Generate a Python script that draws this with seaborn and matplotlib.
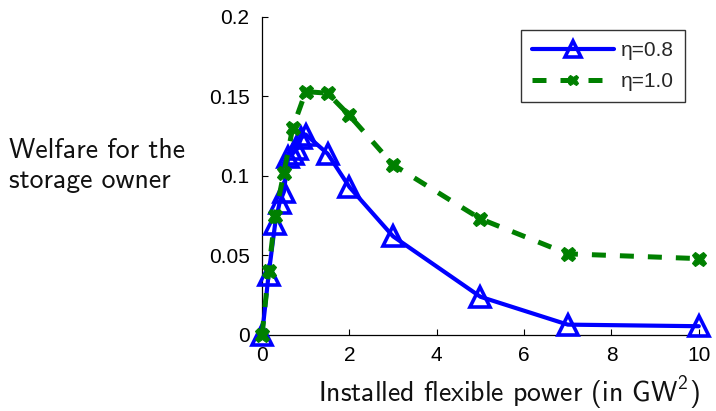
import matplotlib
matplotlib.use("Agg")
import matplotlib.pyplot as plt
import seaborn as sns
import pandas as pd

# Data
x_eta08 = [0, 0.15, 0.3, 0.4, 0.5, 0.6, 0.7, 0.8, 0.9, 1.0, 1.5, 2, 3, 5, 7, 10]
y_eta08 = [0, 0.038, 0.070, 0.083, 0.090, 0.112, 0.114, 0.117, 0.124, 0.126, 0.114, 0.093, 0.062, 0.024, 0.0065, 0.0055]
x_eta10 = [0, 0.15, 0.3, 0.5, 0.7, 1.0, 1.5, 2, 3, 5, 7, 10]
y_eta10 = [0, 0.040, 0.075, 0.102, 0.130, 0.153, 0.152, 0.138, 0.107, 0.073, 0.051, 0.048]
labels = ["\u03b7=0.8", "\u03b7=1.0"]
xticks = [0, 2, 4, 6, 8, 10]
yticks = [0, 0.05, 0.1, 0.15, 0.2]
yticklabels = ["0", "0.05", "0.1", "0.15", "0.2"]

sns.set_theme(style="ticks")
plt.rcParams["font.family"] = ["cmss10", "DejaVu Sans"]
plt.rcParams["mathtext.fontset"] = "custom"
plt.rcParams["mathtext.rm"] = "cmss10"
plt.rcParams["mathtext.it"] = "cmss10"
plt.rcParams["axes.unicode_minus"] = False
plt.rcParams["axes.formatter.use_mathtext"] = False

fig = plt.figure(figsize=(7.16, 4.11), dpi=100)
ax = fig.add_axes([0.366, 0.185, 0.610, 0.774])

df1 = pd.DataFrame({"x": x_eta08, "y": y_eta08})
df2 = pd.DataFrame({"x": x_eta10, "y": y_eta10})

blue = (0, 0, 1)
green = (0, 0.5, 0)

sns.lineplot(data=df1, x="x", y="y", ax=ax, color=blue, lw=3.0, marker="^",
             markersize=15, mfc="none", mec=blue, mew=2.6, label=labels[0],
             sort=False, clip_on=False, zorder=3)
sns.lineplot(data=df2, x="x", y="y", ax=ax, color=green, lw=3.6, ls=(0, (2.8, 2.8)),
             marker="X", markersize=10.5, mfc=green, mec=green, mew=0.8, label=labels[1],
             sort=False, clip_on=False, zorder=4)

ax.set_xlim(0, 10)
ax.set_ylim(0, 0.2)
ax.set_xticks(xticks)
ax.set_xticklabels([str(t) for t in xticks], family="Liberation Sans")
ax.set_yticks(yticks)
ax.set_yticklabels(yticklabels, family="Liberation Sans")
ax.tick_params(direction="in", length=4, width=0.8, labelsize=15, colors="black")
ax.tick_params(axis="y", pad=9)
ax.tick_params(axis="x", pad=8)
for s in ["top", "right"]:
    ax.spines[s].set_visible(False)
for s in ["left", "bottom"]:
    ax.spines[s].set_color("black")
    ax.spines[s].set_linewidth(0.9)

ax.set_xlabel("")
ax.set_ylabel("")
fig.text(0.978, 0.022, "Installed flexible power (in GW$^2$)", fontsize=20, ha="right",
         va="baseline", color="#111111")
fig.text(0.012, 1 - 158 / 411, "Welfare for the", fontsize=20, ha="left", va="baseline",
         color="#111111")
fig.text(0.012, 1 - 188 / 411, "storage owner", fontsize=20, ha="left", va="baseline",
         color="#111111")

leg = ax.legend(loc="upper right", bbox_to_anchor=(0.969, 0.959), frameon=True,
                fancybox=False, edgecolor="black", handlelength=3.9, borderpad=0.55,
                labelspacing=0.55, handletextpad=0.35, borderaxespad=0.0,
                prop={"family": "Liberation Sans", "size": 15}, markerscale=0.75)
leg.get_frame().set_linewidth(1.0)

fig.savefig("out.png", dpi=100)
